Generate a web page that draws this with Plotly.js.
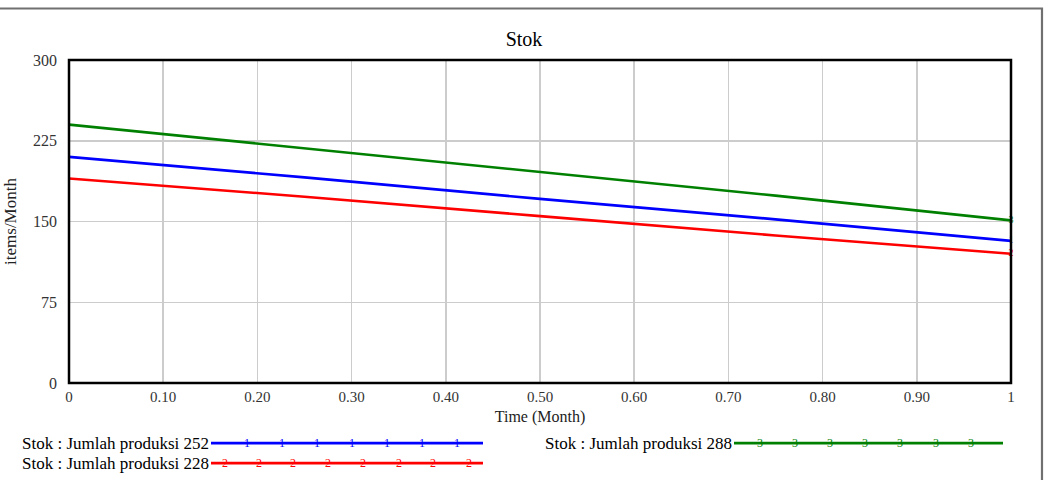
<!DOCTYPE html>
<html>
<head>
<meta charset="utf-8">
<script src="https://cdn.plot.ly/plotly-3.0.1.min.js"></script>
<style>html,body{margin:0;padding:0;background:#fff;}#chart{width:1048px;height:480px;}</style>
</head>
<body>
<div id="chart"></div>
<script>
// Data
const chartTitle = "Stok";
const xTitle = "Time (Month)";
const yTitle = "items/Month";
const time = [0, 0.25, 0.5, 0.75, 1];
const seriesNames = ["Stok : Jumlah produksi 252", "Stok : Jumlah produksi 228", "Stok : Jumlah produksi 288"];
const seriesIds = ["1", "2", "3"];
const seriesColors = ["#0000ff", "#ff0000", "#008000"];
const stok252 = [210, 191, 171, 152, 132];
const stok228 = [190, 173, 155, 137, 120];
const stok288 = [240, 218, 196, 174, 151];
const seriesValues = [stok252, stok228, stok288];
const xTickVals = [0, 0.1, 0.2, 0.3, 0.4, 0.5, 0.6, 0.7, 0.8, 0.9, 1];
const xTickText = ["0", "0.10", "0.20", "0.30", "0.40", "0.50", "0.60", "0.70", "0.80", "0.90", "1"];
const yTickVals = [0, 75, 150, 225, 300];

const FONT = "Liberation Serif, Times New Roman, serif";

const traces = seriesValues.map((vals, i) => ({
  type: "scatter",
  mode: "lines+text",
  x: time,
  y: vals,
  text: time.map((t, k) => (k === time.length - 1 ? seriesIds[i] : "")),
  textposition: "middle center",
  textfont: {family: FONT, size: 10, color: seriesColors[i]},
  cliponaxis: false,
  line: {color: seriesColors[i], width: 2.6},
  name: seriesNames[i],
  showlegend: false,
  hoverinfo: "x+y+name"
}));

// custom legend (line with number markers), positions in paper coords
const shapes = [];
const annotations = [];
const px2x = p => (p - 69) / 942;
const legendRows = [
  {i: 0, x0: px2x(211), x1: px2x(483), y: -0.186, marks: [247, 282, 317, 352, 387, 422, 457]},
  {i: 1, x0: px2x(211), x1: px2x(483), y: -0.248, marks: [225, 259, 293, 328, 363, 399, 433, 469]},
  {i: 2, x0: px2x(734), x1: px2x(1003), y: -0.186, marks: [760, 795, 830, 865, 900, 936, 971]}
];
legendRows.forEach(r => {
  shapes.push({type: "line", xref: "paper", yref: "paper", x0: r.x0, x1: r.x1, y0: r.y, y1: r.y,
    line: {color: seriesColors[r.i], width: 2.6}});
  annotations.push({xref: "paper", yref: "paper", x: r.x0, y: r.y, xanchor: "right", yanchor: "middle",
    text: seriesNames[r.i], showarrow: false, font: {family: FONT, size: 17, color: "#000"}});
  r.marks.forEach(m => annotations.push({xref: "paper", yref: "paper", x: px2x(m), y: r.y, xanchor: "center", yanchor: "middle",
    text: seriesIds[r.i], showarrow: false, font: {family: FONT, size: 12, color: seriesColors[r.i]}}));
});
// outer frame (partly outside the visible image)
shapes.push({type: "rect", xref: "paper", yref: "paper", x0: -0.2, x1: 1.0329, y0: -0.5, y1: 1.1595,
  line: {color: "#707070", width: 2.2}, fillcolor: "rgba(0,0,0,0)", layer: "below"});
// plot frame
shapes.push({type: "rect", xref: "paper", yref: "paper", x0: 0, x1: 1, y0: 0, y1: 1,
  line: {color: "#000", width: 2.5}, fillcolor: "rgba(0,0,0,0)", layer: "above"});

const layout = {
  width: 1048, height: 480,
  margin: {l: 69, r: 37, t: 60, b: 97, pad: 0},
  paper_bgcolor: "#fff", plot_bgcolor: "#fff",
  font: {family: FONT, size: 15, color: "#222"},
  title: {text: chartTitle, x: 0.5, xref: "container", xanchor: "center", y: 1 - 39 / 480, yref: "container", yanchor: "middle",
    font: {family: FONT, size: 20, color: "#000"}},
  xaxis: {
    range: [0, 1], tickvals: xTickVals, ticktext: xTickText,
    showgrid: true, gridcolor: "#cccccc", gridwidth: 1.5, zeroline: false, showline: false,
    ticks: "", ticklabelstandoff: 3, tickfont: {family: FONT, size: 15, color: "#333"},
    title: {text: xTitle, font: {family: FONT, size: 16, color: "#222"}, standoff: 6}
  },
  yaxis: {
    range: [0, 300], tickvals: yTickVals,
    showgrid: true, gridcolor: "#cccccc", gridwidth: 1.5, zeroline: false, showline: false,
    ticks: "", ticklabelstandoff: 11, tickfont: {family: FONT, size: 16, color: "#333"},
    title: {text: yTitle, font: {family: FONT, size: 17, color: "#222"}, standoff: 12}
  },
  shapes: shapes,
  annotations: annotations,
  showlegend: false
};

Plotly.newPlot("chart", traces, layout, {displayModeBar: false, staticPlot: true});
</script>
</body>
</html>
